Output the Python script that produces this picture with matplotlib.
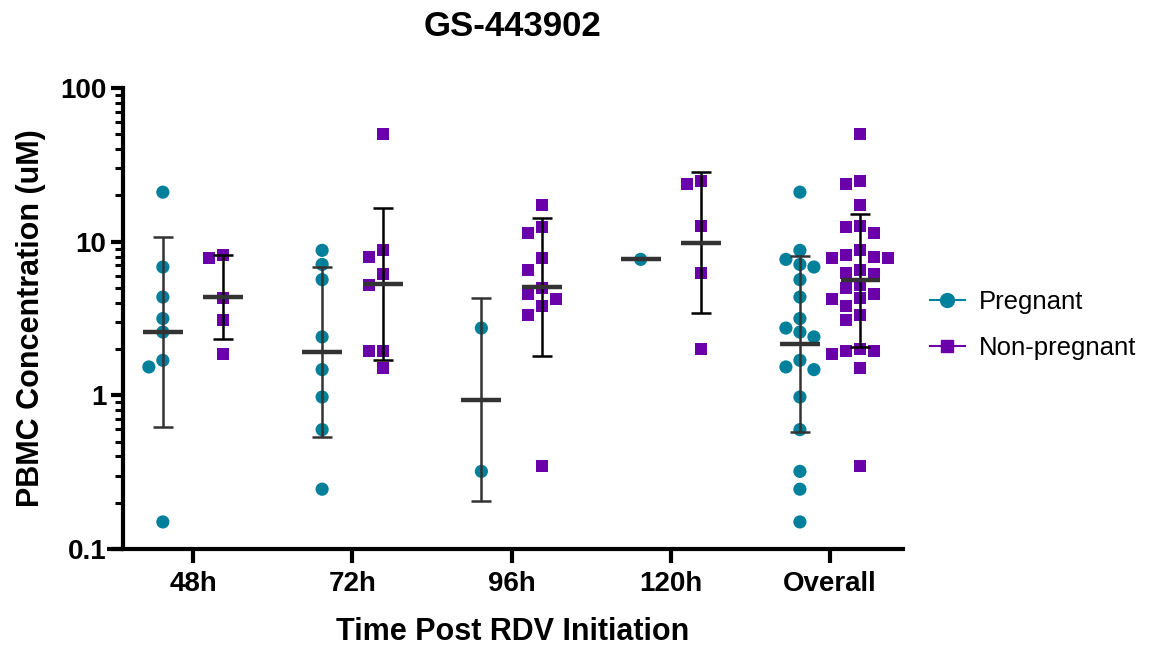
import numpy as np
import matplotlib
matplotlib.use('Agg')
import matplotlib.pyplot as plt
from matplotlib.lines import Line2D
from matplotlib.ticker import LogLocator, NullFormatter, FixedLocator, FixedFormatter

plt.rcParams['font.family'] = ['Liberation Sans', 'DejaVu Sans']

# values (uM), one list per group
categories = ['48h', '72h', '96h', '120h', 'Overall']
preg_48 = [21.0, 6.84, 4.36, 3.16, 2.58, 1.69, 1.53, 0.150]
preg_72 = [8.78, 7.11, 5.66, 2.40, 1.47, 0.975, 0.598, 0.245]
preg_96 = [2.74, 0.32]
preg_120 = [7.67]
nonp_48 = [8.15, 7.87, 4.30, 3.11, 1.87]
nonp_72 = [49.9, 8.87, 7.94, 6.13, 5.20, 1.94, 1.94, 1.51]
nonp_96 = [17.4, 12.4, 11.4, 7.87, 6.58, 5.02, 4.59, 4.26, 3.79, 3.31, 0.347]
nonp_120 = [25.0, 23.6, 12.6, 6.29, 1.99]

preg = [preg_48, preg_72, preg_96, preg_120]
nonp = [nonp_48, nonp_72, nonp_96, nonp_120]
preg.append([v for g in preg for v in g])   # overall
nonp.append([v for g in nonp for v in g])

TEAL = '#00809A'
PURPLE = '#6A00AA'

fig = plt.figure(figsize=(11.51, 6.5), dpi=100)
ax = fig.add_axes([0.1069, 0.1554, 0.6776, 0.7092])
ax.set_yscale('log')
ax.set_ylim(0.1, 100)
ax.set_xlim(-0.44, 4.457)
fig.canvas.draw()


def swarm(xc, vals, step_px=14, size_px=12):
    '''simple beeswarm: shift points sideways in pixel steps until no overlap'''
    order = np.argsort(vals)[::-1]
    to_px = ax.transData.transform
    x0, _ = to_px((xc, 1))
    x1, _ = to_px((xc + 1, 1))
    unit = x1 - x0
    placed = []
    xs = np.zeros(len(vals))
    for i in order:
        _, py = to_px((xc, vals[i]))
        for k in [0, -1, 1, -2, 2, -3, 3]:
            px = x0 + k * step_px
            if all(abs(px - qx) >= size_px or abs(py - qy) >= size_px for qx, qy in placed):
                break
        placed.append((px, py))
        xs[i] = xc + k * step_px / unit
    return xs


def geo_stats(vals):
    lv = np.log10(vals)
    m = lv.mean()
    s = lv.std(ddof=1) if len(lv) > 1 else np.nan
    return m, s


OFF = 0.19
for i, cat in enumerate(categories):
    for vals, dx, color, marker, ms, ecol in [
            (preg[i], -OFF, TEAL, 'o', 90, '#333333'),
            (nonp[i], OFF, PURPLE, 's', 75, 'black')]:
        xc = i + dx
        xs = swarm(xc, vals)
        ax.scatter(xs, vals, s=ms, marker=marker, color=color,
                   edgecolors='none', zorder=2, clip_on=False)
        m, s = geo_stats(vals)
        if not np.isnan(s):
            ax.errorbar([xc], [10 ** m],
                        yerr=[[10 ** m - 10 ** (m - s)], [10 ** (m + s) - 10 ** m]],
                        fmt='none', ecolor=ecol, elinewidth=1.8, capsize=7.5,
                        capthick=1.8, zorder=3)
        ax.plot([xc - 0.125, xc + 0.125], [10 ** m, 10 ** m], color='#333333',
                lw=3.2, solid_capstyle='butt', zorder=4)

# axes styling (Prism look)
for side in ['top', 'right']:
    ax.spines[side].set_visible(False)
for side in ['left', 'bottom']:
    ax.spines[side].set_linewidth(3)
ax.plot([-16 / 780, 0], [0, 0], transform=ax.transAxes, color='black', lw=3,
        clip_on=False, solid_capstyle='butt')

ax.yaxis.set_major_locator(FixedLocator([0.1, 1, 10, 100]))
ax.yaxis.set_major_formatter(FixedFormatter(['0.1', '1', '10', '100']))
ax.yaxis.set_minor_locator(LogLocator(base=10, subs=np.arange(2, 10)))
ax.yaxis.set_minor_formatter(NullFormatter())
ax.tick_params(axis='y', which='major', length=9, width=3, labelsize=20, pad=3)
ax.tick_params(axis='y', which='minor', length=6, width=2.2)
ax.set_xticks(range(len(categories)))
ax.set_xticklabels(categories)
ax.tick_params(axis='x', which='major', length=10, width=3, labelsize=20, pad=6)
for lab in ax.get_xticklabels() + ax.get_yticklabels():
    lab.set_fontweight('bold')

ax.set_xlabel('Time Post RDV Initiation', fontsize=22, fontweight='bold', labelpad=14)
ax.set_ylabel('PBMC Concentration (uM)', fontsize=22, fontweight='bold', labelpad=10)
fig.suptitle('GS-443902', x=0.445, y=0.985, fontsize=25, fontweight='bold')

handles = [Line2D([], [], color=TEAL, lw=1.5, marker='o', ms=10),
           Line2D([], [], color=PURPLE, lw=1.5, marker='s', ms=9)]
fig.legend(handles, ['Pregnant', 'Non-pregnant'], loc='center left',
           bbox_to_anchor=(0.788, 0.5), frameon=False, fontsize=18.5,
           handlelength=1.35, handletextpad=0.55, labelspacing=0.85)

fig.savefig('out.png', dpi=100)
